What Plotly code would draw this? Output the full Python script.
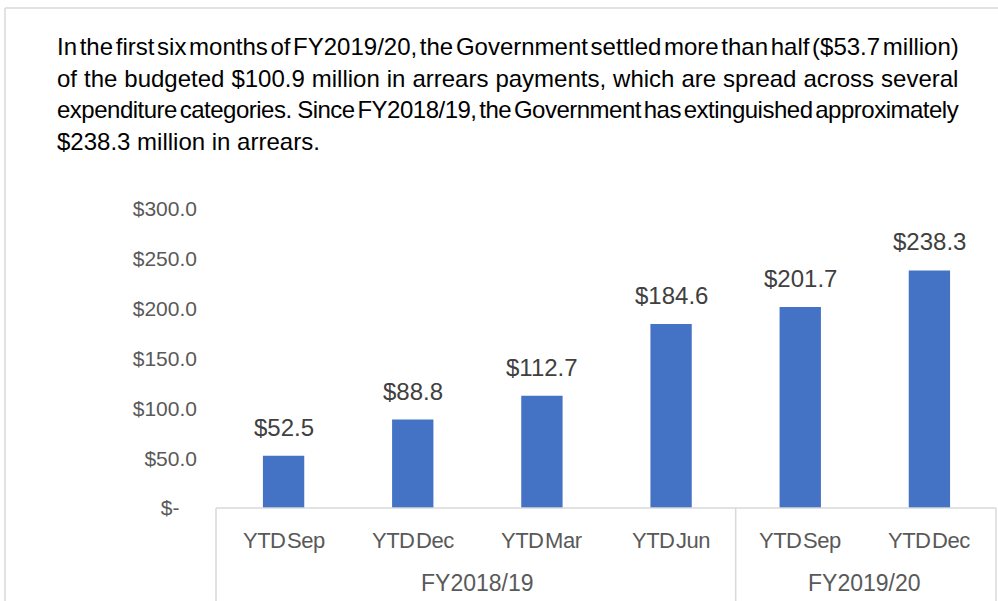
import plotly.graph_objects as go

# ---- data ----
months = ["YTD Sep", "YTD Dec", "YTD Mar", "YTD Jun", "YTD Sep", "YTD Dec"]
fiscal_years = ["FY2018/19", "FY2019/20"]
fy_members = [[0, 1, 2, 3], [4, 5]]
values = [52.5, 88.8, 112.7, 184.6, 201.7, 238.3]
y_ticks = [0, 50, 100, 150, 200, 250, 300]
y_tick_labels = ["$-\u00a0\u00a0\u00a0", "$50.0", "$100.0", "$150.0", "$200.0", "$250.0", "$300.0"]
title_lines = [
    "In the first six months of FY2019/20, the Government settled more than half ($53.7 million)",
    "of the budgeted $100.9 million in arrears payments, which are spread across several",
    "expenditure categories.  Since FY2018/19, the Government has extinguished approximately",
    "$238.3 million in arrears.",
]

# ---- layout geometry (pixels) ----
WIDTH, HEIGHT = 998, 601
L, R, T, B = 219, 994, 209, 508
PW, PH = R - L, B - T


def px(xp):
    return (xp - L) / PW


def py(yp):
    return (B - yp) / PH


FONT = "Liberation Sans, Arial, sans-serif"
BAR = "#4472C4"
GRAY_LINE = "#d9d9d9"
TXT = "#595959"

x_idx = list(range(len(values)))

fig = go.Figure(
    go.Bar(
        x=x_idx,
        y=values,
        marker=dict(color=BAR, line=dict(width=0)),
        width=0.32,
        hoverinfo="skip",
    )
)

annotations = []
# title paragraph
title_y = [47, 78, 109, 141]
title_style = [
    "word-spacing:-4px",
    "word-spacing:0.3px",
    "letter-spacing:-0.5px;word-spacing:-3.4px",
    "",
]
for line, yy, st in zip(title_lines, title_y, title_style):
    txt = f"<span style='{st}'>{line}</span>" if st else line
    annotations.append(dict(
        xref="paper", yref="paper", x=px(55), y=py(yy), xanchor="left", yanchor="middle",
        text=txt, showarrow=False, font=dict(family=FONT, size=24, color="#000000"),
    ))

# data labels
for i, v in enumerate(values):
    annotations.append(dict(
        xref="x", yref="y", x=i, y=v, xanchor="center", yanchor="bottom", yshift=13,
        text=f"${v:.1f}", showarrow=False, font=dict(family=FONT, size=24, color="#404040"),
    ))

# month labels
for i, m in enumerate(months):
    annotations.append(dict(
        xref="x", yref="paper", x=i, y=py(540), xanchor="center", yanchor="middle",
        text=f"<span style='letter-spacing:-0.5px;word-spacing:-4px'>{m}</span>",
        showarrow=False, font=dict(family=FONT, size=22, color=TXT),
    ))

# fiscal year labels
for fy, mem in zip(fiscal_years, fy_members):
    annotations.append(dict(
        xref="x", yref="paper", x=sum(mem) / len(mem), y=py(583), xanchor="center", yanchor="middle",
        text=fy, showarrow=False, font=dict(family=FONT, size=23, color=TXT),
    ))

shapes = []
# outer frame
shapes.append(dict(type="line", xref="paper", yref="paper", x0=px(5), x1=px(1010), y0=py(8), y1=py(8),
                   line=dict(color=GRAY_LINE, width=1.5)))
shapes.append(dict(type="line", xref="paper", yref="paper", x0=px(5), x1=px(5), y0=py(8), y1=py(620),
                   line=dict(color=GRAY_LINE, width=1.5)))
# category axis box
shapes.append(dict(type="line", xref="paper", yref="paper", x0=px(216), x1=px(996), y0=0, y1=0,
                   line=dict(color=GRAY_LINE, width=1.5)))
for xv in [px(216), px(996)]:
    shapes.append(dict(type="line", xref="paper", yref="paper", x0=xv, x1=xv, y0=0, y1=py(620),
                       line=dict(color=GRAY_LINE, width=1.5)))
# divider between fiscal years
div_x = (fy_members[0][-1] + fy_members[1][0]) / 2
shapes.append(dict(type="line", xref="x", yref="paper", x0=div_x, x1=div_x, y0=0, y1=py(620),
                   line=dict(color=GRAY_LINE, width=1.5)))

fig.update_layout(
    width=WIDTH, height=HEIGHT,
    margin=dict(l=L, r=WIDTH - R, t=T, b=HEIGHT - B, autoexpand=False),
    paper_bgcolor="white", plot_bgcolor="white",
    showlegend=False,
    xaxis=dict(range=[-0.5, 5.5], showticklabels=False, showgrid=False, zeroline=False,
               showline=False, ticks="", fixedrange=True),
    yaxis=dict(range=[0, 300], tickvals=y_ticks, ticktext=y_tick_labels, showgrid=False,
               zeroline=False, showline=False, ticks="", ticklabelstandoff=21,
               tickfont=dict(family=FONT, size=21, color=TXT), fixedrange=True),
    annotations=annotations,
    shapes=shapes,
)

fig.write_html(
    "out.html",
    config={"displayModeBar": False},
    post_script="document.body.style.margin='0px';document.body.style.overflow='hidden';",
)
